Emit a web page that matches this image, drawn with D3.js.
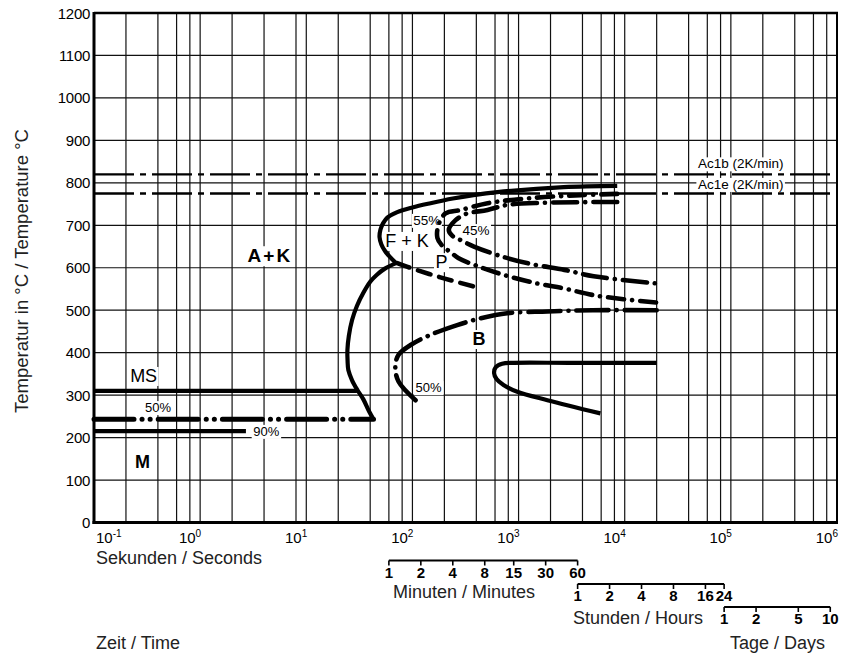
<!DOCTYPE html>
<html>
<head>
<meta charset="utf-8">
<script src="https://cdn.jsdelivr.net/npm/d3@7"></script>
<style>
  html, body { margin: 0; padding: 0; background: #fff; }
  svg { display: block; font-family: "Liberation Sans", Arial, Helvetica, sans-serif; }
</style>
</head>
<body>
<svg id="chart" width="852" height="657"></svg>
<script>
// Isothermal time-temperature-transformation diagram, time on a log scale (s)

// ---- axis values ----
const tempTicks = [0, 100, 200, 300, 400, 500, 600, 700, 800, 900, 1000, 1100, 1200];
const decadeExponents = [-1, 0, 1, 2, 3, 4, 5, 6];
const timeGridLines = [
  0.2, 0.4, 0.6, 0.8, 1,
  2, 4, 8, 10,
  20, 40, 60, 80, 100,
  200, 400, 600, 800, 1e3,
  2e3, 4e3, 6e3, 8e3, 1e4,
  2e4, 4e4, 6e4, 8e4, 1e5,
  2e5, 4e5, 6e5, 8e5
];
const minuteTicks = [1, 2, 4, 8, 15, 30, 60];
const hourTicks = [1, 2, 4, 8, 16, 24];
const dayTicks = [1, 2, 5, 10];

// ---- transformation temperatures (°C) ----
const ac1Temps = [
  { label: "Ac1b (2K/min)", T: 820 },
  { label: "Ac1e (2K/min)", T: 775 }
];
const martensiteLines = [
  { key: "MS",  T: 310, tEnd: 30 },
  { key: "M50", T: 243, tEnd: 43 },
  { key: "M90", T: 215, tEnd: 2.7 }
];

// ---- curves: [time s, temperature °C] ----
const startUpper = [
  [8500, 793], [2660, 790], [630, 778], [376, 771], [240, 763], [148, 752],
  [100, 742], [72, 731], [58, 718], [53, 705], [50, 690], [49, 672],
  [51, 655], [55, 640], [61, 626], [70, 611]
];
const startLower = [
  [70, 611], [55, 598], [46, 583], [40, 567], [34.5, 541], [30, 510],
  [27, 477], [25.2, 440], [24.4, 406], [24.5, 380], [24.9, 359], [27, 335],
  [30.3, 312], [34.5, 290], [39, 262], [43, 243]
];
const ferriteEnd = [[72, 611], [90, 602], [180, 578], [390, 555]];
const curve55 = [
  [8500, 774], [3850, 771], [1300, 764], [510, 752], [285, 736], [205, 728],
  [176, 701], [172, 670], [192, 651], [228, 637], [270, 623], [390, 606],
  [730, 583], [1500, 563], [2700, 551], [5500, 534], [20000, 518]
];
const curve45 = [
  [8500, 755], [1730, 753], [780, 748], [510, 736], [320, 727], [255, 712],
  [220, 689], [238, 675], [285, 665], [380, 650], [730, 625], [1300, 609],
  [2700, 595], [5100, 580], [20000, 563]
];
const bainite50 = [
  [20000, 500], [5000, 500], [1870, 497], [780, 493], [440, 481], [264, 465],
  [148, 442], [96, 418], [74, 395], [69, 367], [74, 332], [107, 288]
];
const bainiteLower = [
  [20000, 376], [3000, 376], [900, 376], [700, 374], [610, 366], [588, 352],
  [620, 338], [721, 324], [973, 308], [1870, 288], [5900, 257]
];

// ---- scales ----
const svg = d3.select("#chart");
const x = d3.scaleLog().domain([0.1, 1e6]).range([94, 837]);
const y = d3.scaleLinear().domain([0, 1200]).range([522.5, 13]);
const [x0, x1] = x.range();
const [yB, yT] = y.range();

const gGrid = svg.append("g");
const gBoxes = svg.append("g");
const gLines = svg.append("g");
const gFrame = svg.append("g");
const gText = svg.append("g");

// grid
gGrid.selectAll("line.v").data(timeGridLines).join("line")
  .attr("x1", d => x(d)).attr("x2", d => x(d))
  .attr("y1", yT).attr("y2", yB)
  .attr("stroke", "#111").attr("stroke-width", 1.2);
gGrid.selectAll("line.h").data(tempTicks.slice(1, -1)).join("line")
  .attr("x1", x0).attr("x2", x1)
  .attr("y1", d => y(d)).attr("y2", d => y(d))
  .attr("stroke", "#111").attr("stroke-width", 1.2);

// frame
gFrame.append("line").attr("x1", x0).attr("x2", x0).attr("y1", yT - 1).attr("y2", yB + 1.5)
  .attr("stroke", "#000").attr("stroke-width", 3);
gFrame.append("line").attr("x1", x0 - 1.5).attr("x2", x1 + 1).attr("y1", yB).attr("y2", yB)
  .attr("stroke", "#000").attr("stroke-width", 3);
gFrame.append("line").attr("x1", x0).attr("x2", x1 + 1).attr("y1", yT).attr("y2", yT)
  .attr("stroke", "#000").attr("stroke-width", 2.5);
gFrame.append("line").attr("x1", x1).attr("x2", x1).attr("y1", yT).attr("y2", yB)
  .attr("stroke", "#000").attr("stroke-width", 2);

// Ac1 lines
gLines.selectAll("line.ac").data(ac1Temps).join("line")
  .attr("x1", x0).attr("x2", x1)
  .attr("y1", d => y(d.T)).attr("y2", d => y(d.T))
  .attr("stroke", "#000").attr("stroke-width", 2.4)
  .attr("stroke-dasharray", "40,6,6,6");

// martensite horizontals
const mStyle = {
  MS:  { w: 4.2, dash: null },
  M50: { w: 5, dash: "40,8,0.1,8,0.1,8" },
  M90: { w: 4.2, dash: null }
};
gLines.selectAll("line.m").data(martensiteLines).join("line")
  .attr("x1", x0).attr("x2", d => x(d.tEnd))
  .attr("y1", d => y(d.T)).attr("y2", d => y(d.T))
  .attr("stroke", "#000")
  .attr("stroke-width", d => mStyle[d.key].w)
  .attr("stroke-linecap", d => mStyle[d.key].dash ? "round" : "butt")
  .attr("stroke-dasharray", d => mStyle[d.key].dash);

// transformation curves
const line = d3.line().x(d => x(d[0])).y(d => y(d[1])).curve(d3.curveCatmullRom.alpha(0.5));
const curves = [
  { data: startUpper, w: 4.2, dash: null },
  { data: startLower, w: 4.2, dash: null },
  { data: ferriteEnd, w: 4.6, dash: "13,9" },
  { data: curve55, w: 4.6, dash: "16,8,0.1,8" },
  { data: curve45, w: 4.6, dash: "24,8,0.1,8" },
  { data: bainite50, w: 4.6, dash: "32,8,0.1,8" },
  { data: bainiteLower, w: 4.2, dash: null }
];
gLines.selectAll("path.c").data(curves).join("path")
  .attr("d", d => line(d.data))
  .attr("fill", "none").attr("stroke", "#000")
  .attr("stroke-width", d => d.w)
  .attr("stroke-linecap", d => d.dash ? "round" : "butt")
  .attr("stroke-linejoin", "round")
  .attr("stroke-dasharray", d => d.dash);

// y tick labels
gText.selectAll("text.yt").data(tempTicks).join("text")
  .attr("x", 90).attr("y", d => y(d) + 5.5)
  .attr("text-anchor", "end").attr("font-size", 15).attr("fill", "#000")
  .attr("letter-spacing", "-0.3")
  .text(d => d);

// x tick labels (powers of ten)
decadeExponents.forEach(e => {
  const first = e === decadeExponents[0];
  const t = gText.append("text")
    .attr("x", first ? x(Math.pow(10, e)) + 2 : x(Math.pow(10, e)) + 1)
    .attr("y", 543)
    .attr("text-anchor", first ? "start" : "end")
    .attr("font-size", 15).attr("fill", "#000");
  t.append("tspan").text("10");
  t.append("tspan").attr("dy", -6).attr("font-size", 10).text(e < 0 ? "-" + Math.abs(e) : e);
});

// axis titles
gText.append("text")
  .attr("transform", "translate(28,271) rotate(-90)")
  .attr("text-anchor", "middle").attr("font-size", 18.5).attr("fill", "#222")
  .text("Temperatur in °C / Temperature °C");
gText.append("text").attr("x", 96).attr("y", 564)
  .attr("font-size", 18).attr("fill", "#222").text("Sekunden / Seconds");
gText.append("text").attr("x", 96).attr("y", 649)
  .attr("font-size", 18).attr("fill", "#222").text("Zeit / Time");

// auxiliary time scales
const auxScales = [
  { ticks: minuteTicks, unit: 60, yLine: 560.5, name: "Minuten / Minutes", nx: 393, ny: 598 },
  { ticks: hourTicks, unit: 3600, yLine: 584, name: "Stunden / Hours", nx: 573, ny: 624 },
  { ticks: dayTicks, unit: 86400, yLine: 607, name: "Tage / Days", nx: 730, ny: 649 }
];
auxScales.forEach(s => {
  const g = gText.append("g");
  const xs = s.ticks.map(v => x(v * s.unit));
  g.append("line").attr("x1", xs[0]).attr("x2", xs[xs.length - 1])
    .attr("y1", s.yLine).attr("y2", s.yLine)
    .attr("stroke", "#000").attr("stroke-width", 2.2);
  g.selectAll("line.tk").data(s.ticks).join("line")
    .attr("x1", v => x(v * s.unit)).attr("x2", v => x(v * s.unit))
    .attr("y1", s.yLine).attr("y2", s.yLine + 5)
    .attr("stroke", "#000").attr("stroke-width", 1.6);
  g.selectAll("text.tl").data(s.ticks).join("text")
    .attr("x", v => x(v * s.unit)).attr("y", s.yLine + 17)
    .attr("text-anchor", "middle").attr("font-size", 15).attr("font-weight", "bold")
    .attr("fill", "#000").text(v => v);
  g.append("text").attr("x", s.nx).attr("y", s.ny)
    .attr("font-size", 18).attr("fill", "#222").text(s.name);
});

// in-plot annotations: [text, time s, temperature °C, size, weight, letter spacing]
const annotations = [
  ["A+K", 2.8, 613, 19, "bold", 2],
  ["MS", 0.219, 331, 18, "normal", 0],
  ["50%", 0.303, 260, 13, "normal", 0],
  ["90%", 3.16, 204, 13, "normal", 0],
  ["M", 0.244, 128, 18, "bold", 0],
  ["F + K", 55.6, 649, 18, "normal", 0],
  ["55%", 102, 701, 13.5, "normal", 0],
  ["45%", 296, 677, 13.5, "normal", 0],
  ["P", 165, 599, 18, "normal", 0],
  ["B", 368, 418, 18, "bold", 0],
  ["50%", 107, 307, 13, "normal", 0]
];
annotations.forEach(a => {
  gText.append("text")
    .attr("x", x(a[1])).attr("y", y(a[2]))
    .attr("font-size", a[3]).attr("font-weight", a[4]).attr("fill", "#000")
    .attr("letter-spacing", a[5])
    .attr("class", "lbl").text(a[0]);
});
ac1Temps.forEach((d, i) => {
  gText.append("text")
    .attr("x", x(48900)).attr("y", y(d.T) - (i === 0 ? 6 : 4.5))
    .attr("font-size", 13.5).attr("fill", "#000")
    .attr("class", "lbl").text(d.label);
});

// white boxes behind labels so grid lines stop at the text
gText.selectAll("text.lbl").each(function () {
  const b = this.getBBox();
  gBoxes.append("rect")
    .attr("x", b.x - 1.5).attr("y", b.y + 1)
    .attr("width", b.width + 3).attr("height", b.height - 1)
    .attr("fill", "#fff");
});
</script>
</body>
</html>
